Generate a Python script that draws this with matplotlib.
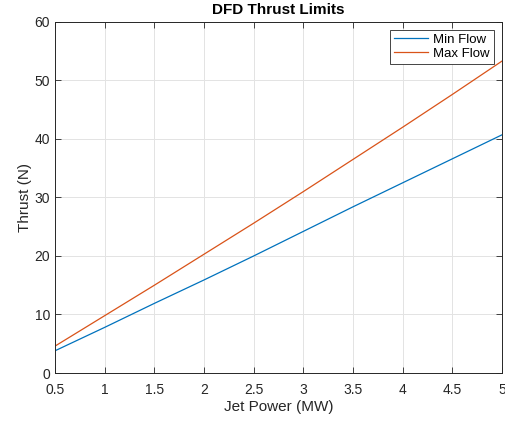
import numpy as np
import matplotlib
matplotlib.use('Agg')
import matplotlib.pyplot as plt

# Jet power (MW) and thrust (N)
power = [0.5, 1.0, 1.5, 2.0, 2.5, 3.0, 3.5, 4.0, 4.5, 5.0]
thrust_min = [3.8, 7.8, 11.9, 15.9, 20.0, 24.2, 28.4, 32.5, 36.6, 40.7]
thrust_max = [4.6, 9.8, 15.0, 20.3, 25.6, 31.0, 36.5, 42.0, 47.6, 53.3]

x_ticks = [0.5, 1, 1.5, 2, 2.5, 3, 3.5, 4, 4.5, 5]
x_labels = ['0.5', '1', '1.5', '2', '2.5', '3', '3.5', '4', '4.5', '5']
y_ticks = [0, 10, 20, 30, 40, 50, 60]

plt.rcParams['font.family'] = ['Liberation Sans', 'DejaVu Sans']
plt.rcParams['xtick.direction'] = 'in'
plt.rcParams['ytick.direction'] = 'in'

fig = plt.figure(figsize=(5.05, 4.21), dpi=100)
ax = fig.add_axes([0.109, 0.114, 0.885, 0.834])

ax.plot(power, thrust_min, color='#0072BD', linewidth=0.9, label='Min Flow')
ax.plot(power, thrust_max, color='#D95319', linewidth=0.9, label='Max Flow')

ax.set_xlim(0.5, 5)
ax.set_ylim(0, 60)
ax.set_xticks(x_ticks)
ax.set_xticklabels(x_labels)
ax.set_yticks(y_ticks)
ax.tick_params(labelsize=10, colors='#262626', length=4, width=0.6,
               top=True, right=True)
ax.tick_params(axis='x', pad=7)
ax.grid(True, color='#E3E3E3', linewidth=0.7)
ax.set_axisbelow(True)
for s in ax.spines.values():
    s.set_color('#262626')
    s.set_linewidth(0.7)

ax.set_xlabel('Jet Power (MW)', fontsize=11, color='#262626', labelpad=2)
ax.set_ylabel('Thrust (N)', fontsize=11, color='#262626', labelpad=2)
ax.set_title('DFD Thrust Limits', fontsize=11, fontweight='bold', pad=6)

leg = ax.legend(loc='upper right', fontsize=9.5, fancybox=False, framealpha=1,
                edgecolor='#262626', handlelength=2.6, borderpad=0.3,
                labelspacing=0.1, handletextpad=0.4, borderaxespad=0.6)
leg.get_frame().set_linewidth(0.6)

fig.savefig('out.png', dpi=100)
